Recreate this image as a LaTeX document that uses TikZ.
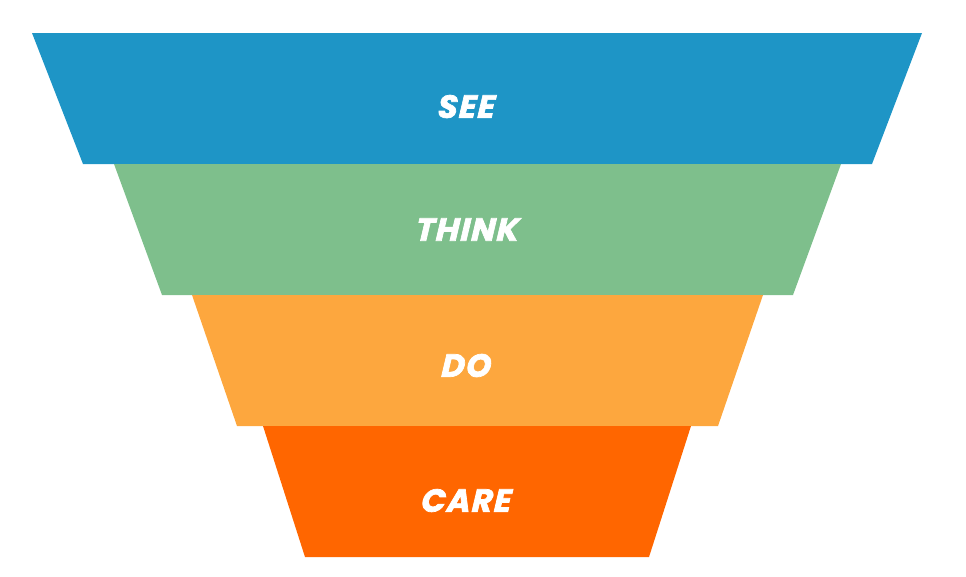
\documentclass[tikz,border=0pt]{standalone}
\usepackage{fontspec}
\setmainfont{Poppins}[BoldItalicFeatures={FakeBold=2.2, FakeSlant=0.06, LetterSpace=4}]
\definecolor{cSee}{HTML}{1E95C6}
\definecolor{cThink}{HTML}{7EBF8C}
\definecolor{cDo}{HTML}{FDA73E}
\definecolor{cCare}{HTML}{FF6600}
\tikzset{
  lbl/.style={text=white, font=\fontsize{32}{33}\selectfont\bfseries\itshape, inner sep=0pt, anchor=center}
}
\begin{document}
\begin{tikzpicture}[x=1pt,y=-1pt]
\useasboundingbox (0,0) rectangle (966,576);
\fill[cSee] (32,33) -- (922,33) -- (872,164) -- (83,164) -- cycle;
\fill[cThink] (114,164) -- (841,164) -- (793,295) -- (162,295) -- cycle;
\fill[cDo] (192,295) -- (763,295) -- (718,426) -- (237,426) -- cycle;
\fill[cCare] (263,426) -- (691,426) -- (649,557) -- (305,557) -- cycle;
\node[lbl] (see) at (466,106.5) {SEE};
\node[lbl] (think) at (467,229.5) {THINK};
\node[lbl] (do) at (466,365.5) {DO};
\node[lbl] (care) at (466,500.5) {CARE};
\end{tikzpicture}
\end{document}
